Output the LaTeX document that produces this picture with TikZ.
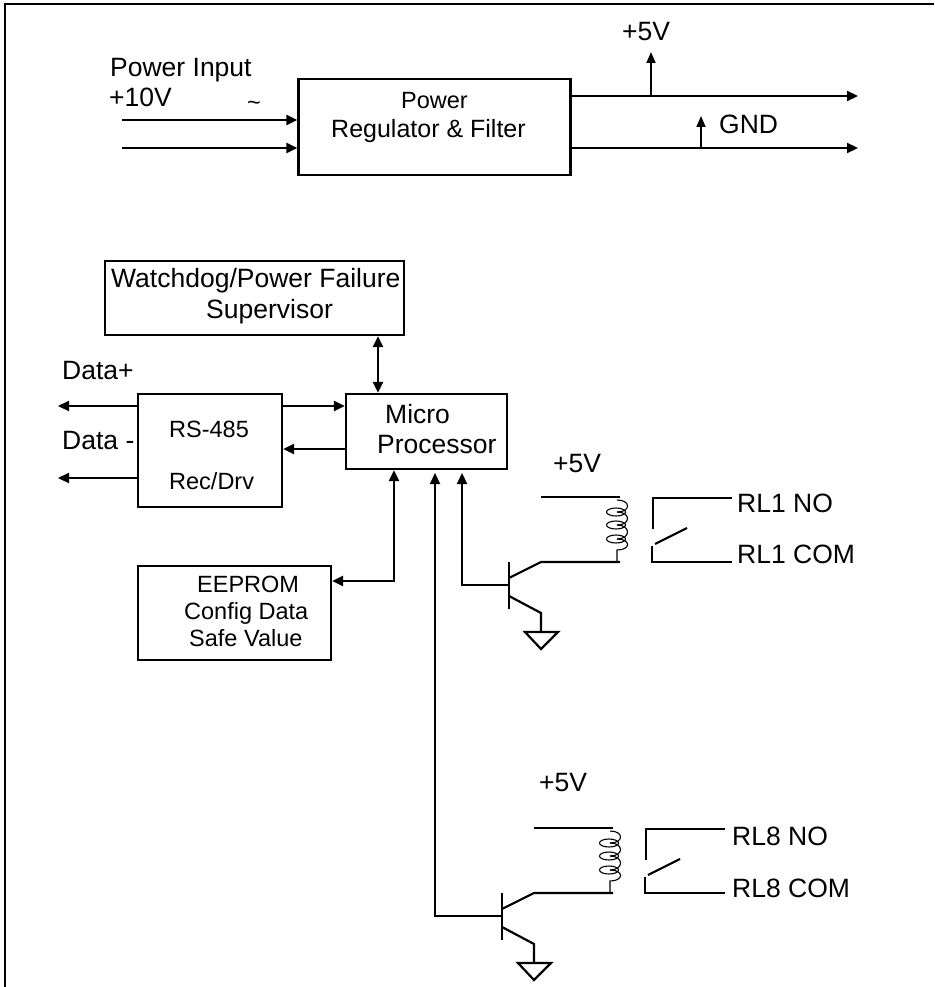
\documentclass[tikz,border=0pt]{standalone}
\usepackage{fontspec}
\setmainfont{Liberation Sans}
\usetikzlibrary{arrows.meta}

\tikzset{
  box/.style={draw, line width=2.2pt, inner sep=0pt, minimum width=#1},
  big/.style={anchor=base west, inner sep=0pt, font=\fontsize{26.5}{30}\selectfont},
  medium/.style={anchor=base west, inner sep=0pt, font=\fontsize{25}{30}\selectfont},
  small/.style={anchor=base west, inner sep=0pt, font=\fontsize{23.5}{28}\selectfont},
  wire/.style={line width=2.2pt},
  sig/.style={line width=2.2pt, -{Triangle[length=11pt,width=10pt]}},
  sigboth/.style={line width=2.2pt, {Triangle[length=11pt,width=10pt]}-{Triangle[length=11pt,width=10pt]}},
  tap/.style={line width=1.8pt, -{Triangle[length=11pt,width=9pt]}},
  relay/.pic={
    % Transistor
    \draw[wire] (0,0) -- (0,47);
    \draw[wire] (0,16) -- (32,0) -- (111,0);
    \draw[wire] (0,34) -- (32,51) -- (32,70);
    \draw[wire] (16,70) -- (49,70) -- (32,87) -- cycle;
    \coordinate (-base) at (0,23);
    % Coil
    \draw[wire] (32,-65) -- (111,-65);
    \draw[line width=1.1pt] (108,-62) .. controls (122,-62) and (122,-50) .. (108,-50);
    \draw[line width=1.1pt] (108,-37) .. controls (122,-37) and (122,-50) .. (108,-50);
    \draw[line width=1.1pt] (108,-37) .. controls (122,-37) and (122,-23) .. (108,-23);
    \draw[line width=1.1pt] (108,-23) .. controls (122,-23) and (122,-12) .. (108,-12) -- (108,0);
    \foreach \coily in {-50,-37,-23}
    {
        \draw[line width=1.1pt] (107,\coily) ellipse (9.5 and 4);
    }
    % Contacts
    \draw[wire] (144,-33) -- (144,-64) -- (223,-64);
    \draw[wire] (146,-18) -- (178,-34);
    \draw[wire] (143,-16) -- (143,0) -- (223,0);
  }
}

\begin{document}
\begin{tikzpicture}[x=1pt, y=-1pt]

\useasboundingbox (0,0) rectangle (934,987);

% Frame
\draw[line width=1.5pt] (5,987) -- (5,4) -- (934,4);

% Power section
\node[box=272pt, minimum height=96pt] (power) at (434.5,127) {};
\node[small] (powerlabel) at (401,109) {Power};
\node[medium] (regulator) at (331,138) {Regulator \& Filter};
\node[big] (powerinput) at (110,77) {Power Input};
\node[big] (tenvolt) at (109,107) {+10V};
\node[small] (tilde) at (247,111) {\textasciitilde};
\node[big] (fivetop) at (622,41) {+5V};
\node[big] (gnd) at (719,134) {GND};

\coordinate (in1) at (122,120);
\coordinate (in2) at (122,148);
\coordinate (out1) at (858,96);
\coordinate (out2) at (858,148);
\coordinate (tap1) at (651,96);
\coordinate (tap1end) at (651,52);
\coordinate (tap2) at (701,148);
\coordinate (tap2end) at (701,116);

\draw[sig] (in1) -- (power.west |- in1);
\draw[sig] (in2) -- (power.west |- in2);
\draw[sig] (power.east |- out1) -- (out1);
\draw[sig] (power.east |- out2) -- (out2);
\draw[tap] (tap1) -- (tap1end);
\draw[tap] (tap2) -- (tap2end);

% Main blocks
\node[box=299pt, minimum height=74pt] (watchdog) at (254.5,298) {};
\node[box=144pt, minimum height=113pt] (rs485) at (210,450.5) {};
\node[box=161pt, minimum height=75pt] (micro) at (426.5,431.5) {};
\node[box=193pt, minimum height=94pt] (eeprom) at (234.5,613) {};

\node[big] (wdlabel) at (111,287) {Watchdog/Power Failure};
\node[big] (suplabel) at (206,318) {Supervisor};
\node[small] (rslabel) at (169,437) {RS-485};
\node[small] (reclabel) at (169,489) {Rec/Drv};
\node[big] (microlabel) at (385,423) {Micro};
\node[big] (proclabel) at (377,453) {Processor};
\node[small] (eelabel) at (197,592) {EEPROM};
\node[small] (configlabel) at (184,619) {Config Data};
\node[small] (safelabel) at (189,646) {Safe Value};
\node[big] (datap) at (62,379) {Data+};
\node[big] (datam) at (62,449) {Data -};

\coordinate (dataout1) at (58,406);
\coordinate (dataout2) at (58,478);
\coordinate (rxline) at (282,406);
\coordinate (txline) at (282,449);
\coordinate (eebus) at (394,581);
\coordinate (relay1in) at (462,473);
\coordinate (relay8in) at (435,473);

\draw[sig] (rs485.west |- dataout1) -- (dataout1);
\draw[sig] (rs485.west |- dataout2) -- (dataout2);
\draw[sig] (rs485.east |- rxline) -- (micro.west |- rxline);
\draw[sig] (micro.west |- txline) -- (rs485.east |- txline);
\draw[sigboth] (watchdog.south -| 378,0) -- (micro.north -| 378,0);
\draw[sigboth] (micro.south -| eebus) -- (eebus) -- (eeprom.east |- eebus);

% Relay outputs
\foreach \n/\x/\y in {1/509/562, 8/502/893}
{
    \pic (relay\n) at (\x,\y) {relay};
}
\draw[sig] (relay1-base) -| (relay1in);
\draw[sig] (relay8-base) -| (relay8in);

\node[big] (five1) at (553,472) {+5V};
\node[big] (rl1no) at (737,512) {RL1 NO};
\node[big] (rl1com) at (737,563) {RL1 COM};
\node[big] (five8) at (539,791) {+5V};
\node[big] (rl8no) at (732,845) {RL8 NO};
\node[big] (rl8com) at (732,897) {RL8 COM};

\end{tikzpicture}
\end{document}
